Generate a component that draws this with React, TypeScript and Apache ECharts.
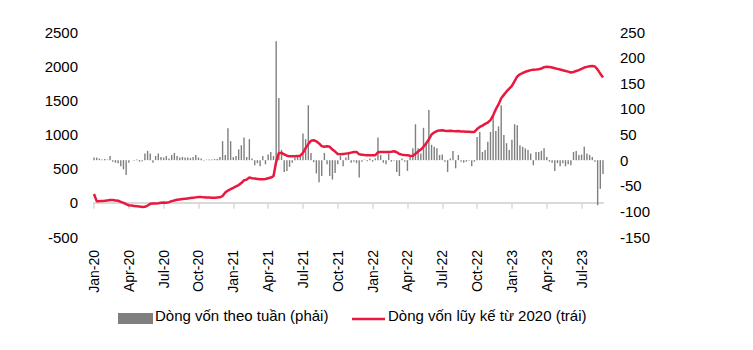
import React, { useEffect, useRef } from "react";
import * as echarts from "echarts";

// Quarter tick labels (one every 13 weeks, starting at week 0)
const TICK_LABELS = [
  "Jan-20", "Apr-20", "Jul-20", "Oct-20",
  "Jan-21", "Apr-21", "Jul-21", "Oct-21",
  "Jan-22", "Apr-22", "Jul-22", "Oct-22",
  "Jan-23", "Apr-23", "Jul-23",
];
const WEEKS_PER_TICK = 13;

// Weekly flow (right axis)
const WEEKLY_FLOW = [
  5, 5, 3, 1, 2, 1, 8, -3, -5, -6, -12, -18, -29, -5, 0, -1, 1, -3, -2, 13,
  18, 13, -5, 8, 13, 6, 5, 8, 3, 10, 14, 8, 5,
  6, 5, 5, 4, 6, 10, 5, 3, -1, 1, 1, 1, 2, 2, 6, 37, 10, 62, 37, 6, 8, 21,
  29, 44, 6, 41, 3, -10, -6, -12, 8, -8,
  11, 16, 8, 232, 121, 20, -23, -21, -13, -5, 5, 6, 10, 52, 41, 107, 14, -4,
  -26, -43, -31, 14, -8, -31, -38, -25, -8, 8, -12, 5, 14, -5,
  -3, -6, -34, -3, 1, -2, 3, -3, 3, 44, 10, -5, -8, 13, -3, -1, -23, -31, 3,
  -3, -21, 10, 23, 70, 23, 13, 63, 33, 98, 30, 26, 23,
  10, 11, -3, -23, 3, 18, -16, 10, -3, -5, -3, -1, -12, -3, 45, 55, 16, 20,
  36, 55, 88, 57, 66, 107, 49, 33, 20, 40, 70, 68, 29, 26,
  23, 20, 13, -10, 16, 16, 18, 23, 6, -3, -5, -21, -6, -12, -6, -12, -8, -10,
  16, 18, 10, 11, 26, 13, 10, 6, -3, -88, -56, -27,
];

// Cumulative flow since 2020 (left axis)
const CUMULATIVE = [
  130, 25, 25, 28, 30, 35, 40, 40, 35, 30, 15, 0, -20, -35, -40, -45, -50, -55, -60, -58,
  -40, -15, -10, -8, -5, 0, 5, 0, 10, 25, 35, 45, 50, 55, 60, 65, 70, 75, 80, 85,
  85, 80, 78, 78, 75, 75, 78, 80, 100, 150, 180, 200, 220, 240, 260, 290, 330, 340, 370, 360,
  355, 350, 345, 345, 350, 360, 370, 390, 600, 730, 730, 710, 690, 680, 680, 682, 686, 690, 730, 800,
  860, 910, 916, 900, 870, 830, 820, 828, 820, 780, 750, 715, 710, 715, 720, 725, 735, 745, 745, 710,
  705, 700, 696, 696, 696, 696, 740, 745, 745, 745, 745, 748, 755, 740, 715, 705, 700, 696, 690, 686,
  720, 750, 780, 820, 870, 930, 1000, 1030, 1050, 1060, 1063, 1055, 1050, 1055, 1050, 1048, 1050, 1045, 1045, 1042,
  1040, 1038, 1038, 1080, 1110, 1130, 1155, 1175, 1210, 1280, 1370, 1440, 1530, 1580, 1630, 1670, 1710, 1780, 1850, 1880,
  1900, 1918, 1930, 1942, 1948, 1950, 1955, 1965, 1985, 1990, 1988, 1980, 1970, 1960, 1950, 1940, 1930, 1920, 1908, 1915,
  1930, 1942, 1960, 1980, 1990, 1998, 2001, 1995, 1950, 1890, 1835,
];

const SERIES_BAR = "Dòng vốn theo tuần (phải)";
const SERIES_LINE = "Dòng vốn lũy kế từ 2020 (trái)";

const BAR_COLOR = "#7f7f7f";
const LINE_COLOR = "#e8183e";

const WEEKS = WEEKLY_FLOW.map((_, i) => "W" + i);

export default function App() {
  const ref = useRef<HTMLDivElement | null>(null);

  useEffect(() => {
    if (!ref.current) return;
    const chart = echarts.init(ref.current, null, { renderer: "svg" });
    const font = "'Liberation Sans', Arial, sans-serif";
    const isTick = (i: number) => i % WEEKS_PER_TICK === 0;

    chart.setOption({
      animation: false,
      backgroundColor: "#ffffff",
      grid: { left: 94, right: 150, top: 32, bottom: 113, containLabel: false },
      legend: { show: false },
      graphic: [
        { type: "rect", shape: { x: 118, y: 313, width: 35, height: 11 }, style: { fill: BAR_COLOR } },
        {
          type: "text",
          x: 155,
          y: 315,
          style: { text: SERIES_BAR, fontFamily: font, fontSize: 15, fill: "#000", verticalAlign: "middle", align: "left" },
        },
        { type: "line", shape: { x1: 352, y1: 319, x2: 385, y2: 319 }, style: { stroke: LINE_COLOR, lineWidth: 2.3 } },
        {
          type: "text",
          x: 388,
          y: 315,
          style: { text: SERIES_LINE, fontFamily: font, fontSize: 15, fill: "#000", verticalAlign: "middle", align: "left" },
        },
      ],
      xAxis: [
        {
          type: "category",
          data: WEEKS,
          boundaryGap: false,
          axisLine: { show: true, onZero: true, onZeroAxisIndex: 0, lineStyle: { color: "#d9d9d9", width: 2 } },
          axisTick: { show: true, interval: (i: number) => isTick(i), length: 6, inside: false, lineStyle: { color: "#d9d9d9", width: 1.5 } },
          axisLabel: { show: false },
          splitLine: { show: false },
        },
        {
          type: "category",
          data: WEEKS,
          boundaryGap: false,
          position: "bottom",
          axisLine: { show: false, onZero: false },
          axisTick: { show: false },
          axisLabel: {
            show: true,
            interval: (i: number) => isTick(i),
            rotate: 90,
            margin: 13,
            fontFamily: font,
            fontSize: 14,
            color: "#000",
            formatter: (_v: string, i: number) => TICK_LABELS[i / WEEKS_PER_TICK] ?? "",
          },
          splitLine: { show: false },
        },
      ],
      yAxis: [
        {
          type: "value",
          min: -500,
          max: 2500,
          interval: 500,
          position: "left",
          axisLine: { show: false },
          axisTick: { show: false },
          splitLine: { show: false },
          axisLabel: { margin: 16, fontFamily: font, fontSize: 15, color: "#000", formatter: (v: number) => String(v) },
        },
        {
          type: "value",
          min: -150,
          max: 250,
          interval: 50,
          position: "right",
          axisLine: { show: false },
          axisTick: { show: false },
          splitLine: { show: false },
          axisLabel: { margin: 17, fontFamily: font, fontSize: 15, color: "#000", formatter: (v: number) => String(v) },
        },
      ],
      series: [
        {
          name: SERIES_BAR,
          type: "bar",
          xAxisIndex: 0,
          yAxisIndex: 1,
          data: WEEKLY_FLOW,
          barWidth: 1.4,
          itemStyle: { color: BAR_COLOR },
        },
        {
          name: SERIES_LINE,
          type: "line",
          xAxisIndex: 0,
          yAxisIndex: 0,
          data: CUMULATIVE,
          symbol: "none",
          showSymbol: false,
          smooth: false,
          lineStyle: { color: LINE_COLOR, width: 2.5 },
          itemStyle: { color: LINE_COLOR },
          z: 3,
        },
      ],
    });

    return () => chart.dispose();
  }, []);

  return (
    <div
      ref={ref}
      style={{ position: "fixed", left: 0, top: 0, width: 753, height: 350, background: "#fff" }}
    />
  );
}
